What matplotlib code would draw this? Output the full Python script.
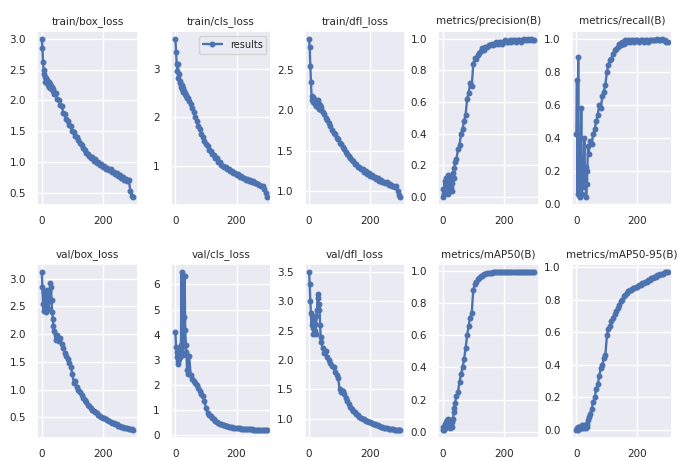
import matplotlib
matplotlib.use("Agg")
import matplotlib.pyplot as plt
from matplotlib.ticker import MultipleLocator
import seaborn as sns

epochs = [0, 2, 4, 6, 8, 10, 12, 14, 16, 18, 20, 22, 24, 26, 28, 30, 32, 34, 36, 38, 40,
          45, 50, 55, 60, 65, 70, 75, 80, 85, 90, 95, 100, 105, 110, 115, 120, 125, 130, 135,
          140, 145, 150, 155, 160, 165, 170, 175, 180, 185, 190, 195, 200, 205, 210, 215, 220,
          225, 230, 235, 240, 245, 250, 255, 260, 265, 270, 275, 280, 285, 290, 295, 299]

train_box_loss = [3.00, 2.85, 2.62, 2.50, 2.42, 2.38, 2.30, 2.36, 2.28, 2.33, 2.25, 2.30, 2.22, 2.27, 2.20, 2.24, 2.18, 2.22, 2.15, 2.19, 2.10,
                  2.12, 2.02, 2.00, 1.93, 1.90, 1.80, 1.78, 1.70, 1.66, 1.60, 1.58, 1.50, 1.48, 1.42, 1.40, 1.35, 1.30, 1.28, 1.22,
                  1.20, 1.15, 1.12, 1.10, 1.07, 1.08, 1.02, 1.04, 0.98, 1.00, 0.95, 0.97, 0.92, 0.93, 0.89, 0.90, 0.86,
                  0.88, 0.83, 0.84, 0.80, 0.82, 0.77, 0.78, 0.74, 0.75, 0.71, 0.72, 0.69, 0.70, 0.52, 0.45, 0.43]

train_cls_loss = [3.62, 3.35, 3.10, 2.95, 3.10, 2.80, 2.90, 2.70, 2.75, 2.62, 2.66, 2.58, 2.60, 2.52, 2.55, 2.48, 2.50, 2.44, 2.46, 2.40, 2.40,
                  2.33, 2.28, 2.18, 2.10, 2.00, 1.92, 1.82, 1.76, 1.65, 1.58, 1.50, 1.45, 1.40, 1.32, 1.30, 1.24, 1.22, 1.16, 1.15,
                  1.08, 1.07, 1.02, 1.00, 0.97, 0.96, 0.92, 0.93, 0.88, 0.89, 0.85, 0.84, 0.80, 0.82, 0.77, 0.78, 0.74,
                  0.75, 0.71, 0.72, 0.68, 0.70, 0.66, 0.67, 0.63, 0.64, 0.61, 0.60, 0.58, 0.58, 0.52, 0.43, 0.35]

train_dfl_loss = [2.88, 2.78, 2.55, 2.35, 2.18, 2.12, 2.16, 2.10, 2.14, 2.08, 2.12, 2.05, 2.10, 2.06, 2.12, 2.04, 2.08, 2.02, 2.06, 2.00, 2.04,
                  1.98, 1.95, 1.90, 1.88, 1.84, 1.80, 1.76, 1.72, 1.70, 1.66, 1.64, 1.60, 1.58, 1.54, 1.52, 1.48, 1.46, 1.43, 1.41,
                  1.38, 1.37, 1.34, 1.33, 1.30, 1.30, 1.27, 1.27, 1.24, 1.25, 1.21, 1.22, 1.19, 1.20, 1.17, 1.18, 1.15,
                  1.16, 1.13, 1.14, 1.12, 1.12, 1.10, 1.11, 1.08, 1.09, 1.07, 1.07, 1.05, 1.06, 1.00, 0.95, 0.93]

precision = [0.00, 0.05, 0.02, 0.10, 0.03, 0.12, 0.04, 0.08, 0.14, 0.02, 0.10, 0.05, 0.13, 0.06, 0.11, 0.04, 0.09, 0.15, 0.12, 0.18, 0.22,
             0.24, 0.30, 0.33, 0.40, 0.43, 0.48, 0.52, 0.62, 0.66, 0.72, 0.70, 0.84, 0.88, 0.87, 0.90, 0.91, 0.92, 0.94, 0.93,
             0.95, 0.95, 0.96, 0.96, 0.97, 0.96, 0.97, 0.98, 0.97, 0.98, 0.98, 0.97, 0.98, 0.99, 0.98, 0.98, 0.99,
             0.98, 0.99, 0.99, 0.98, 0.99, 0.99, 0.98, 0.99, 1.00, 0.99, 0.99, 1.00, 0.99, 1.00, 0.99, 0.99]

recall = [0.42, 0.75, 0.06, 0.89, 0.05, 0.15, 0.04, 0.20, 0.58, 0.06, 0.25, 0.10, 0.18, 0.40, 0.15, 0.22, 0.04, 0.12, 0.20, 0.35, 0.30,
          0.38, 0.36, 0.42, 0.45, 0.50, 0.54, 0.60, 0.58, 0.65, 0.68, 0.72, 0.80, 0.84, 0.87, 0.88, 0.91, 0.93, 0.94, 0.95,
          0.97, 0.96, 0.98, 0.97, 0.99, 0.98, 0.99, 0.98, 0.99, 0.99, 0.98, 0.99, 0.99, 0.98, 0.99, 0.99, 0.98,
          0.99, 0.99, 0.98, 0.99, 0.99, 0.99, 0.99, 0.99, 1.00, 0.99, 0.99, 1.00, 0.99, 0.99, 0.98, 0.98]

val_box_loss = [3.12, 2.85, 2.55, 2.42, 2.75, 2.50, 2.65, 2.40, 2.80, 2.55, 2.70, 2.45, 2.78, 2.60, 2.92, 2.85, 2.62, 2.40, 2.28, 2.15, 2.05,
                1.90, 1.98, 1.88, 1.92, 1.82, 1.75, 1.65, 1.60, 1.55, 1.48, 1.40, 1.28, 1.12, 1.15, 1.05, 1.00, 0.95, 0.90, 0.85,
                0.81, 0.77, 0.73, 0.70, 0.67, 0.64, 0.62, 0.59, 0.57, 0.55, 0.53, 0.51, 0.49, 0.48, 0.46, 0.45, 0.43,
                0.42, 0.40, 0.39, 0.38, 0.37, 0.35, 0.34, 0.33, 0.32, 0.31, 0.31, 0.30, 0.29, 0.28, 0.28, 0.27]

val_cls_loss = [4.10, 3.50, 3.10, 3.30, 2.95, 2.82, 3.05, 3.40, 3.10, 3.60, 6.50, 3.50, 3.20, 3.80, 4.70, 6.35, 4.20, 3.60, 3.30, 2.60, 2.45,
                3.15, 2.40, 2.25, 2.15, 2.10, 2.00, 1.90, 1.75, 1.65, 1.55, 1.35, 1.10, 0.90, 0.82, 0.75, 0.68, 0.63, 0.58, 0.54,
                0.50, 0.47, 0.44, 0.42, 0.40, 0.38, 0.36, 0.34, 0.33, 0.32, 0.31, 0.30, 0.29, 0.28, 0.28, 0.27, 0.27,
                0.26, 0.26, 0.25, 0.25, 0.24, 0.24, 0.23, 0.23, 0.23, 0.22, 0.22, 0.22, 0.21, 0.21, 0.21, 0.21]

val_dfl_loss = [3.50, 3.30, 3.00, 2.80, 2.60, 2.75, 2.55, 2.45, 2.70, 2.50, 2.62, 2.45, 2.75, 2.85, 3.12, 3.05, 2.85, 2.95, 2.60, 2.40, 2.30,
                2.20, 2.12, 2.15, 2.05, 2.00, 1.95, 1.90, 1.88, 1.80, 1.75, 1.70, 1.50, 1.45, 1.48, 1.42, 1.35, 1.30, 1.25, 1.20,
                1.17, 1.14, 1.11, 1.08, 1.06, 1.04, 1.02, 1.00, 0.99, 0.97, 0.96, 0.95, 0.94, 0.93, 0.92, 0.91, 0.90,
                0.89, 0.88, 0.87, 0.86, 0.85, 0.85, 0.84, 0.83, 0.83, 0.82, 0.82, 0.81, 0.81, 0.81, 0.81, 0.81]

map50 = [0.01, 0.03, 0.01, 0.05, 0.02, 0.06, 0.03, 0.07, 0.04, 0.08, 0.03, 0.06, 0.02, 0.07, 0.04, 0.06, 0.03, 0.08, 0.12, 0.15, 0.18,
         0.22, 0.25, 0.31, 0.36, 0.40, 0.45, 0.52, 0.60, 0.66, 0.71, 0.74, 0.88, 0.92, 0.93, 0.95, 0.96, 0.97, 0.97, 0.98,
         0.98, 0.99, 0.99, 0.99, 0.99, 0.995, 0.995, 0.995, 0.995, 0.995, 0.995, 0.995, 0.995, 0.995, 0.995, 0.995, 0.995,
         0.995, 0.995, 0.995, 0.995, 0.995, 0.995, 0.995, 0.995, 0.995, 0.995, 0.995, 0.995, 0.995, 0.995, 0.995, 0.995]

map50_95 = [0.00, 0.01, 0.00, 0.02, 0.01, 0.02, 0.01, 0.02, 0.01, 0.03, 0.01, 0.02, 0.01, 0.03, 0.02, 0.01, 0.03, 0.02, 0.04, 0.06, 0.08,
            0.10, 0.13, 0.17, 0.20, 0.25, 0.28, 0.33, 0.38, 0.40, 0.44, 0.46, 0.58, 0.62, 0.64, 0.67, 0.69, 0.71, 0.73, 0.75,
            0.77, 0.79, 0.80, 0.82, 0.83, 0.84, 0.85, 0.86, 0.86, 0.87, 0.87, 0.88, 0.88, 0.89, 0.89, 0.90, 0.90,
            0.91, 0.91, 0.92, 0.92, 0.93, 0.93, 0.94, 0.94, 0.95, 0.95, 0.96, 0.96, 0.96, 0.97, 0.97, 0.97]

titles = ["train/box_loss", "train/cls_loss", "train/dfl_loss", "metrics/precision(B)", "metrics/recall(B)",
          "val/box_loss", "val/cls_loss", "val/dfl_loss", "metrics/mAP50(B)", "metrics/mAP50-95(B)"]
series = [train_box_loss, train_cls_loss, train_dfl_loss, precision, recall,
          val_box_loss, val_cls_loss, val_dfl_loss, map50, map50_95]
y_steps = [0.5, 1.0, 0.5, 0.2, 0.2, 0.5, 1.0, 0.5, 0.2, 0.2]

sns.set_theme(style="darkgrid")
plt.rcParams['font.family'] = ['DejaVu Sans']

fig, axes = plt.subplots(2, 5, figsize=(6.77, 4.61), dpi=100)
fig.subplots_adjust(left=0.055, right=0.993, top=0.933, bottom=0.05, wspace=0.33, hspace=0.34)

color = "#4c72b0"
for ax, title, ys, st in zip(axes.ravel(), titles, series, y_steps):
    ax.plot(epochs, ys, marker='.', color=color, linewidth=1.7, markersize=6.5, label='results')
    ax.set_title(title, fontsize=7.5, color='#262626', pad=5)
    ax.tick_params(axis='both', labelsize=7.5, colors='#262626', pad=2)
    ax.set_xticks([0, 200])
    ax.yaxis.set_major_locator(MultipleLocator(st))

axes[0, 1].legend(loc='upper right', fontsize=7, frameon=True, handlelength=2)

fig.savefig("out.png", dpi=100, facecolor='white')
